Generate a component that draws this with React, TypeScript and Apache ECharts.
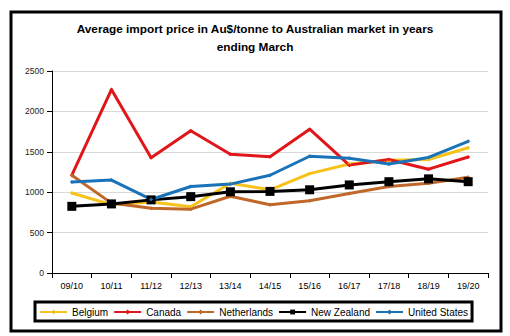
import React, { useEffect, useRef } from "react";
import * as echarts from "echarts";

const categories = ["09/10", "10/11", "11/12", "12/13", "13/14", "14/15", "15/16", "16/17", "17/18", "18/19", "19/20"];
const belgium = [990, 845, 880, 820, 1110, 1030, 1230, 1350, 1395, 1405, 1550];
const canada = [1210, 2270, 1425, 1760, 1470, 1440, 1780, 1335, 1405, 1285, 1435];
const netherlands = [1210, 865, 800, 790, 950, 845, 895, 985, 1070, 1110, 1185];
const newZealand = [825, 855, 905, 945, 1005, 1010, 1030, 1090, 1130, 1165, 1130];
const unitedStates = [1125, 1150, 910, 1070, 1100, 1210, 1445, 1420, 1350, 1430, 1630];
const yTicks = { min: 0, max: 2500, interval: 500 };

const FONT = "Liberation Sans, Arial, sans-serif";

export default function App() {
  const ref = useRef<HTMLDivElement>(null);
  useEffect(() => {
    document.body.style.margin = "0";
    const chart = echarts.init(ref.current!, null, { renderer: "svg" });
    const mk = (name: string, data: number[], color: string, symbol: string, size: number) => ({
      name,
      type: "line",
      data,
      symbol,
      symbolSize: size,
      showSymbol: true,
      lineStyle: { color, width: 3 },
      itemStyle: { color, borderWidth: 0 },
    });
    chart.setOption({
      animation: false,
      backgroundColor: "#fff",
      title: {
        text: "Average import price in Au$/tonne to Australian market in years\nending March",
        left: "center",
        top: 15,
        textStyle: { fontFamily: FONT, fontSize: 11.8, fontWeight: "bold", color: "#000", lineHeight: 18 },
      },
      grid: { left: 52, right: 22, top: 71, bottom: 63 },
      legend: {
        top: 302,
        left: 35,
        itemWidth: 27,
        itemHeight: 6,
        itemGap: 5,
        padding: [5, 4, 4, 4],
        borderColor: "#000",
        borderWidth: 3,
        textStyle: { fontFamily: FONT, fontSize: 10, color: "#000" },
        data: ["Belgium", "Canada", "Netherlands", "New Zealand", "United States"],
      },
      xAxis: {
        type: "category",
        data: categories,
        boundaryGap: true,
        axisLine: { lineStyle: { color: "#000", width: 1 } },
        axisTick: { show: true, inside: false, length: 5, lineStyle: { color: "#000" } },
        axisLabel: { fontFamily: FONT, fontSize: 9, color: "#000", margin: 8 },
      },
      yAxis: {
        type: "value",
        min: yTicks.min,
        max: yTicks.max,
        interval: yTicks.interval,
        axisLine: { show: true, lineStyle: { color: "#000", width: 1 } },
        axisTick: { show: true, length: 5, lineStyle: { color: "#000" } },
        axisLabel: { fontFamily: FONT, fontSize: 8.5, color: "#222", margin: 8, formatter: (v: number) => String(v) },
        splitLine: { lineStyle: { color: "#d9d9d9", width: 1 } },
      },
      graphic: [
        {
          type: "rect",
          shape: { x: 11, y: 12, width: 490, height: 319 },
          style: { fill: "none", stroke: "#000", lineWidth: 3 },
          silent: true,
          z: 100,
        },
      ],
      series: [
        mk("Belgium", belgium, "#F6C21B", "diamond", 4),
        mk("Canada", canada, "#E0161B", "diamond", 4),
        mk("Netherlands", netherlands, "#C0682A", "diamond", 4),
        mk("New Zealand", newZealand, "#000000", "rect", 9),
        mk("United States", unitedStates, "#1A73B8", "diamond", 4),
      ],
    });
    return () => chart.dispose();
  }, []);
  return <div ref={ref} style={{ width: 510, height: 336 }} />;
}
